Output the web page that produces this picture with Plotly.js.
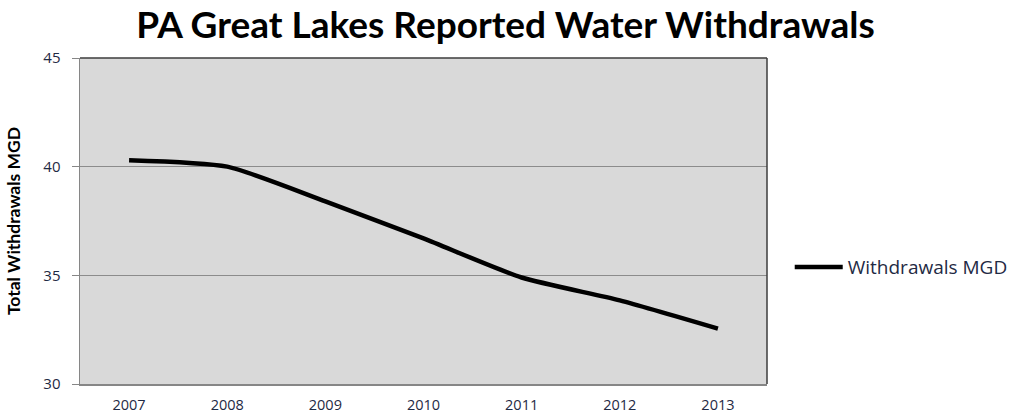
<!DOCTYPE html>
<html>
<head>
<meta charset="utf-8">
<script src="https://cdn.plot.ly/plotly-3.0.1.min.js"></script>
<style>html,body{margin:0;padding:0;background:#fff;}#chart{width:1019px;height:414px;}</style>
</head>
<body>
<div id="chart"></div>
<script>
const years = ["2007", "2008", "2009", "2010", "2011", "2012", "2013"];
const withdrawals = [40.3, 40.0, 38.4, 36.7, 34.9, 33.85, 32.55];
const seriesName = "Withdrawals MGD";
const titleText = "PA Great Lakes Reported Water Withdrawals";
const yTitle = "Total Withdrawals MGD";
const yTicks = [30, 35, 40, 45];

const font = "Lato, Open Sans, sans-serif";

const trace = {
  x: years,
  y: withdrawals,
  type: "scatter",
  mode: "lines",
  name: seriesName,
  line: {color: "#000000", width: 4.5, shape: "spline", smoothing: 0.6}
};

const layout = {
  width: 1019,
  height: 414,
  margin: {l: 80, r: 252, t: 58, b: 30},
  paper_bgcolor: "#ffffff",
  plot_bgcolor: "#d9d9d9",
  showlegend: true,
  title: {
    text: "<b>" + titleText + "</b>",
    font: {family: font, size: 37, color: "#000000"},
    x: 0.496, xanchor: "center",
    y: 0.94, yanchor: "middle"
  },
  legend: {
    xref: "container", yref: "container",
    x: 0.775, xanchor: "left",
    y: 0.355, yanchor: "middle",
    font: {family: "Open Sans, sans-serif", size: 19, color: "#1f2a44"},
    bgcolor: "rgba(0,0,0,0)",
    itemwidth: 48
  },
  xaxis: {
    type: "category",
    range: [-0.5, 6.5],
    showgrid: false,
    zeroline: false,
    showline: true,
    linecolor: "#868686",
    linewidth: 1.5,
    ticks: "",
    tickfont: {family: "Open Sans, sans-serif", size: 14.5, color: "#1f2a44"},
    ticklabelstandoff: 7,
    fixedrange: true
  },
  yaxis: {
    range: [30, 45],
    tickvals: yTicks,
    ticktext: yTicks.map(String),
    showgrid: true,
    gridcolor: "#8c8c8c",
    gridwidth: 1,
    zeroline: false,
    showline: true,
    linecolor: "#868686",
    linewidth: 1.5,
    ticks: "outside",
    ticklen: 7,
    tickcolor: "#868686",
    tickfont: {family: "Open Sans, sans-serif", size: 15, color: "#1f2a44"},
    ticklabelstandoff: 8,
    title: {
      text: "<b>" + yTitle + "</b>",
      font: {family: font, size: 17.5, color: "#000000"},
      standoff: 18
    },
    fixedrange: true
  },
  shapes: [
    {type: "line", xref: "paper", yref: "paper", x0: 0, x1: 1, y0: 1, y1: 1, line: {color: "#3c3c3c", width: 1.5}},
    {type: "line", xref: "paper", yref: "paper", x0: 1, x1: 1, y0: 0, y1: 1, line: {color: "#3c3c3c", width: 1.5}}
  ]
};

Plotly.newPlot("chart", [trace], layout, {staticPlot: true, displayModeBar: false});
</script>
</body>
</html>
